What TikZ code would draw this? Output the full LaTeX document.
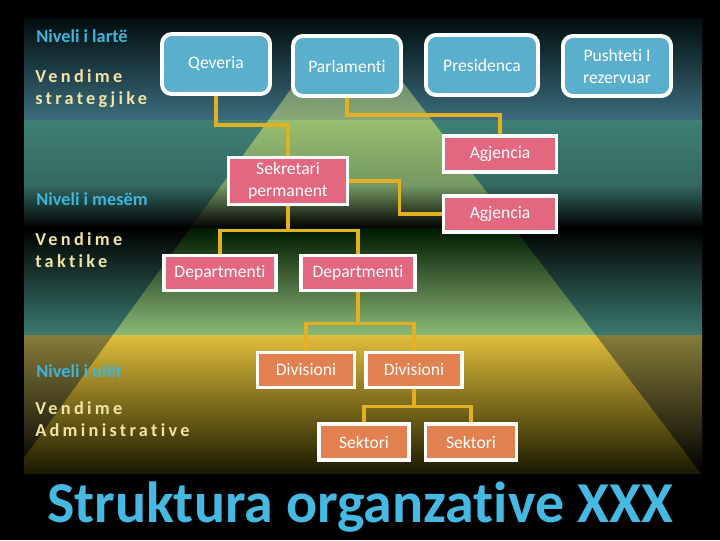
\documentclass[tikz,border=0pt]{standalone}
\usepackage{fontspec}
\setmainfont{Carlito}[Ligatures=NoCommon]
\usetikzlibrary{backgrounds}

\definecolor{govblue}{HTML}{5AAFCC}
\definecolor{unitpink}{HTML}{E3687F}
\definecolor{loworange}{HTML}{E2814F}
\definecolor{linkgold}{HTML}{E2B022}
\definecolor{levelblue}{HTML}{3FB4DC}
\definecolor{pale}{HTML}{F2E4A4}
\definecolor{titleblue}{HTML}{45B9E2}

\begin{document}
\begin{tikzpicture}[x=0.025cm, y=-0.025cm,
  govbox/.style={draw=white, line width=2.8pt, rounded corners=7pt, fill=govblue,
    text=white, font=\fontsize{12.5}{15.6}\selectfont, inner sep=0pt,
    minimum width=2.7cm, minimum height=1.5cm, align=center},
  unitbox/.style={draw=white, line width=2.8pt, fill=unitpink, text=white,
    font=\fontsize{12.5}{15.6}\selectfont, inner sep=0pt, align=center},
  lowbox/.style={unitbox, fill=loworange},
  link/.style={draw=linkgold, line width=2.6pt},
  level/.style={anchor=base west, text=levelblue, inner sep=0pt,
    font=\fontsize{13}{15}\selectfont\bfseries},
  choice/.style={anchor=base west, text=pale, inner sep=0pt,
    font=\fontsize{13}{15}\selectfont\bfseries\addfontfeature{LetterSpace=18}}]

  \useasboundingbox (0,0) rectangle (720,540);

  % bands of the slide
  \begin{scope}[on background layer]
    \fill[black] (0,0) rectangle (720,540);
    \shade[top color=black!90!teal, bottom color={rgb,255:red,60;green,109;blue,126}] (24,18) rectangle (702,120);
    \shade[top color={rgb,255:red,63;green,128;blue,116}, bottom color={rgb,255:red,50;green,104;blue,96}] (24,120) rectangle (702,186);
    \shade[top color={rgb,255:red,50;green,104;blue,96}, bottom color=black] (24,185.5) rectangle (702,228);
    \shade[top color=black, middle color={rgb,255:red,50;green,110;blue,100}, bottom color={rgb,255:red,59;green,122;blue,112}] (24,228) rectangle (702,335);
    \shade[top color={rgb,255:red,134;green,124;blue,58}, bottom color=black] (24,335) rectangle (702,473);
    % the pyramid
    \begin{scope}
      \clip (24,18) rectangle (702,473);
      \clip (312,60) -- (386,60) -- (706,480) -- (8,480) -- cycle;
      \shade[top color={rgb,255:red,70;green,100;blue,90}, bottom color={rgb,255:red,138;green,168;blue,120}] (0,18) rectangle (720,120);
      \shade[top color={rgb,255:red,152;green,190;blue,112}, bottom color={rgb,255:red,115;green,152;blue,98}] (0,120) rectangle (720,186);
      \shade[top color={rgb,255:red,115;green,152;blue,98}, bottom color=black] (0,185.5) rectangle (720,228);
      \shade[top color=black!90!green, middle color={rgb,255:red,110;green,160;blue,110}, bottom color={rgb,255:red,140;green,186;blue,120}] (0,228) rectangle (720,335);
      \shade[top color={rgb,255:red,224;green,189;blue,58}, middle color={rgb,255:red,190;green,160;blue,50}, bottom color=black!90!yellow] (0,335) rectangle (720,473);
    \end{scope}
  \end{scope}

  % levels on the left
  \node[level] (lv1) at (36,42) {Niveli i lartë};
  \node[choice] (vs1) at (35,82) {Vendime};
  \node[choice] (vs2) at (35,104) {strategjike};
  \node[level] (lv2) at (36,205) {Niveli i mesëm};
  \node[choice] (vt1) at (35,245) {Vendime};
  \node[choice] (vt2) at (35,267) {taktike};
  \node[level] (lv3) at (36,377) {Niveli i ulët};
  \node[choice] (va1) at (35,414) {Vendime};
  \node[choice] (va2) at (35,436) {Administrative};

  % top row
  \node[govbox] (qev) at (216,64) {Qeveria};
  \node[govbox] (parl) at (347,66) {Parlamenti};
  \node[govbox, minimum width=2.8cm] (pres) at (482,65) {Presidenca};
  \node[govbox] (push) at (617,66) {Pushteti I\\rezervuar};

  % middle
  \node[unitbox, minimum width=2.975cm, minimum height=1.175cm] (sek) at (288,181) {Sekretari\\permanent};
  \node[unitbox, minimum width=2.825cm, minimum height=0.9cm] (ag1) at (500,154) {Agjencia};
  \node[unitbox, minimum width=2.825cm, minimum height=0.9cm] (ag2) at (500,214) {Agjencia};
  \node[unitbox, minimum width=2.8cm, minimum height=0.875cm] (dep1) at (220,273) {Departmenti};
  \node[unitbox, minimum width=2.85cm, minimum height=0.875cm] (dep2) at (358,273) {Departmenti};

  % lower
  \node[lowbox, minimum width=2.425cm, minimum height=0.875cm] (div1) at (306,370) {Divisioni};
  \node[lowbox, minimum width=2.4cm, minimum height=0.875cm] (div2) at (414,370) {Divisioni};
  \node[lowbox, minimum width=2.25cm, minimum height=0.9cm] (sk1) at (364,442) {Sektori};
  \node[lowbox, minimum width=2.275cm, minimum height=0.9cm] (sk2) at (471,442) {Sektori};

  % connectors go under the boxes
  \begin{scope}[on background layer]
    \draw[link] (qev.south) -- ++(0,29) -| (sek.north);
    \draw[link] (parl.south) -- ++(0,17) -| (ag1.north);
    \draw[link] (sek.east) -- ++(50,0) |- (ag2.west);
    \draw[link] (sek.south) -- ++(0,24) -| (dep1.north);
    \draw[link] (sek.south) -- ++(0,24) -| (dep2.north);
    \draw[link] (dep2.south) -- ++(0,31) -| (div1.north);
    \draw[link] (dep2.south) -- ++(0,31) -| (div2.north);
    \draw[link] (div2.south) -- ++(0,17) -| (sk1.north);
    \draw[link] (div2.south) -- ++(0,17) -| (sk2.north);
  \end{scope}

  % title
  \node[anchor=base, text=titleblue, inner sep=0pt, font=\fontsize{41.2}{46}\selectfont\bfseries] (title) at (360,522) {Struktura organzative XXX};
\end{tikzpicture}
\end{document}
